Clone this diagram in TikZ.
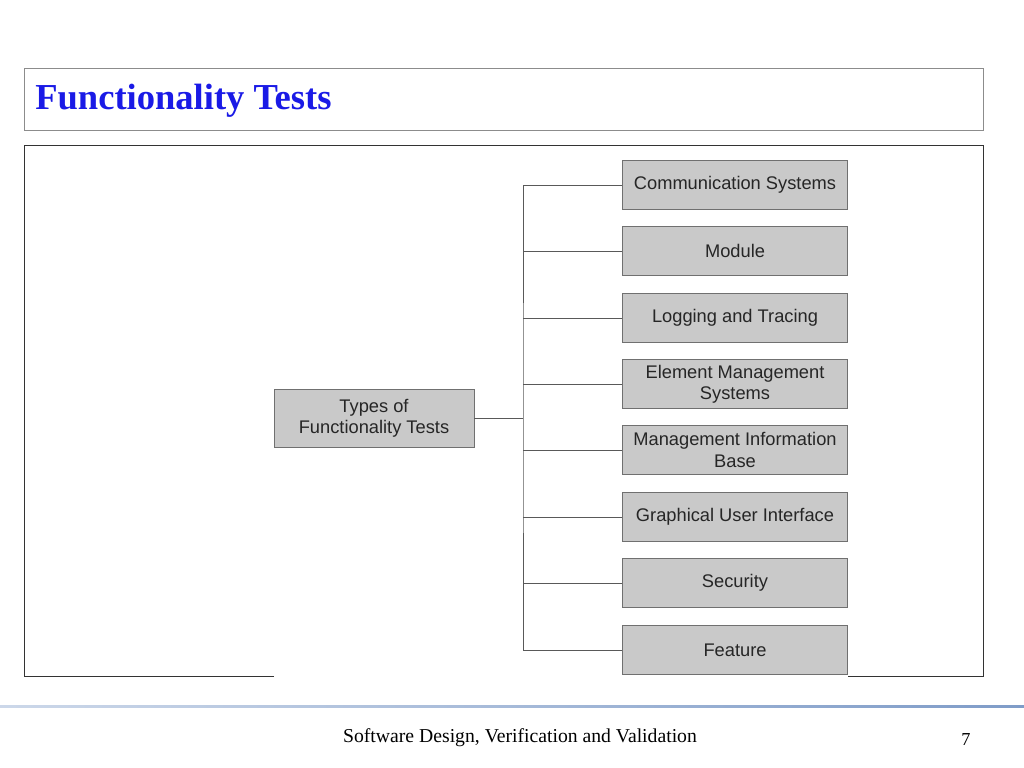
\documentclass[tikz,border=0pt]{standalone}
\usepackage{fontspec}
\setmainfont{Liberation Serif}
\newfontfamily\boxfont{Liberation Sans}
\usetikzlibrary{positioning, calc}
\definecolor{boxFill}{HTML}{C9C9C9}
\definecolor{boxLine}{HTML}{707070}
\definecolor{titleBlue}{HTML}{1A1AE6}
\definecolor{rule}{HTML}{7F9CC8}

\begin{document}
\begin{tikzpicture}[x=0.025cm, y=-0.025cm]
        % Styles
        \tikzstyle{item} = [rectangle, minimum width=5.625cm, minimum height=1.22cm, align=center, draw=boxLine, fill=boxFill, text=black!85, font=\boxfont\fontsize{13}{15}\selectfont, inner sep=1pt]
        \tikzstyle{root} = [item, minimum width=5cm, minimum height=1.45cm]
        \tikzstyle{link} = [draw=black!65, semithick]

        \useasboundingbox (0,0) rectangle (1024,768);

        % Frames
        \draw [black!45] (24,68) rectangle (983,130);
        \node (title) [anchor=west, text=titleBlue, font=\fontsize{26}{30}\selectfont\bfseries, inner sep=0pt] at (35,101) {Functionality Tests};
        \draw [black!80] (274,676) -- (24,676) -- (24,145) -- (983,145) -- (983,676) -- (848,676);

        % Nodes
        \node (types) [root] at (374,418) {Types of\\Functionality Tests};
        \node (comm) [item] at (735,185) {Communication Systems};
        \node (module) [item] at (735,251) {Module};
        \node (log) [item] at (735,318) {Logging and Tracing};
        \node (ems) [item] at (735,384) {Element Management\\Systems};
        \node (mib) [item] at (735,450) {Management Information\\Base};
        \node (gui) [item] at (735,517) {Graphical User Interface};
        \node (sec) [item] at (735,583) {Security};
        \node (feat) [item] at (735,650) {Feature};

        % Connectors
        \coordinate (trunk) at (523,418);
        \draw [link] (types.east) -- (trunk);
        \draw [link] (comm.west) -| (trunk) |- (feat.west);
        \foreach \n in {module, log, ems, mib, gui, sec}
            \draw [link] (\n.west) -- (\n.west -| trunk);

        % Footer
        \shade [left color=rule!40, right color=rule] (0,705) rectangle (1024,707.5);
        \node (foot) [font=\fontsize{14}{16}\selectfont] at (520,738) {Software Design, Verification and Validation};
        \node (page) [font=\fontsize{13}{16}\selectfont] at (966,740) {7};
\end{tikzpicture}
\end{document}
